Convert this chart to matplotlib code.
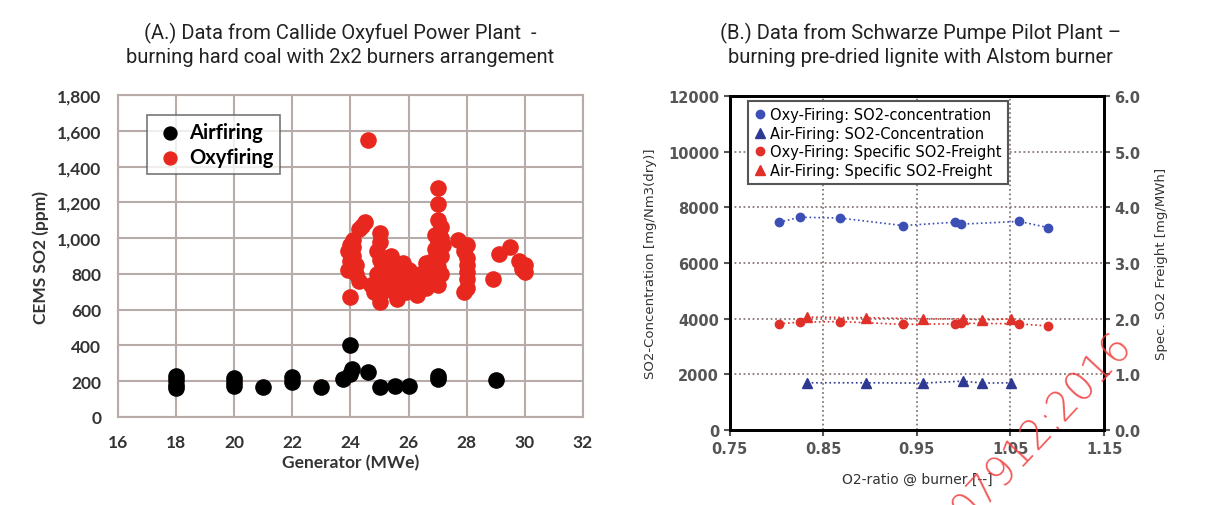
import matplotlib
matplotlib.use("Agg")
from matplotlib import pyplot as plt
import numpy as np

# (A.) Callide - generator load (MWe) vs CEMS SO2 (ppm)
air_x = [18, 18, 18, 18, 20, 20, 20, 21, 22, 22, 23, 23.75, 24.0, 24.05, 24.0,
         24.6, 25.0, 25.55, 26.0, 27.0, 27.0, 29.0]
air_y = [230, 205, 180, 160, 220, 195, 175, 170, 225, 195, 170, 212, 400, 268, 240,
         250, 170, 175, 175, 230, 210, 207]

oxy_x = [24.0, 23.9, 24.0, 23.9, 24.0, 24.1, 24.1, 24.2, 24.2, 24.3, 24.3, 24.5, 24.4, 24.1,
         24.6,
         25.0, 25.0, 24.9, 25.0, 25.1, 24.9, 25.0, 25.1, 25.0, 25.0, 24.8, 24.7,
         25.3, 25.4, 25.5, 25.5, 25.6, 25.7, 25.8, 25.8, 25.9, 26.0, 26.1, 26.2, 26.3,
         25.4, 25.6, 26.4, 26.5, 26.6, 26.6,
         27.0, 27.0, 27.0, 27.1, 26.9, 27.0, 26.9, 27.1, 26.8, 27.0, 27.1, 26.9, 27.0,
         27.2, 27.1, 26.7,
         27.7, 28.0, 27.9, 28.0, 28.0, 28.0, 28.0, 28.0, 27.9,
         28.9, 29.1, 29.5, 29.8, 30.0, 30.0, 29.9]
oxy_y = [670, 820, 870, 930, 960, 990, 900, 850, 800, 760, 1050, 1090, 1070, 950,
         1550,
         1030, 980, 930, 880, 840, 800, 760, 720, 680, 645, 700, 740,
         800, 760, 700, 850, 820, 780, 740, 860, 700, 820, 770, 720, 680,
         900, 660, 800, 760, 720, 860,
         1280, 1190, 1100, 1060, 1020, 980, 940, 900, 870, 840, 800, 760, 740,
         960, 1000, 820,
         990, 960, 930, 890, 850, 810, 770, 720, 700,
         770, 910, 950, 870, 850, 810, 830]

# (B.) Schwarze Pumpe - O2 ratio vs SO2 concentration / specific freight
oxy_ratio = [0.803, 0.825, 0.868, 0.935, 0.991, 0.997, 1.059, 1.090]
oxy_conc = [7470, 7650, 7620, 7350, 7470, 7400, 7500, 7280]
oxy_freight = [1.91, 1.94, 1.95, 1.90, 1.91, 1.92, 1.91, 1.87]

air_ratio = [0.833, 0.896, 0.957, 0.999, 1.020, 1.051]
air_conc = [1700, 1700, 1690, 1760, 1690, 1700]
air_freight = [2.03, 2.02, 2.00, 2.00, 1.98, 2.00]

fig = plt.figure(figsize=(12.16, 5.06), dpi=100)
title_font = ["Liberation Sans Narrow", "Roboto", "DejaVu Sans"]

# ---------------- left panel ----------------
ax1 = fig.add_axes([0.097, 0.174, 0.3824, 0.636])
grid_col = "#b8aca8"
ax1.scatter(air_x, air_y, s=120, color="black", zorder=3, label="Airfiring")
ax1.scatter(oxy_x, oxy_y, s=120, color="#e8281e", zorder=3, label="Oxyfiring")
ax1.set_xlim(16, 32)
ax1.set_ylim(0, 1800)
ax1.set_xticks(np.arange(16, 33, 2))
ax1.set_yticks(np.arange(0, 1801, 200))
ax1.set_yticklabels([f"{v:,}" for v in range(0, 1801, 200)])
ax1.grid(True, color=grid_col, linewidth=1.5)
ax1.set_axisbelow(True)
for sp in ax1.spines.values():
    sp.set_color(grid_col)
    sp.set_linewidth(1.5)
ax1.tick_params(length=0, pad=12, labelsize=12.5, labelcolor="#333333")
for lab in ax1.get_xticklabels() + ax1.get_yticklabels():
    lab.set_family("Lato")
    lab.set_weight("bold")
ax1.set_xlabel("Generator (MWe)", family="Lato", weight="bold", fontsize=12.5,
               color="#333333", labelpad=3)
ax1.set_ylabel("CEMS SO2 (ppm)", family="Lato", weight="bold", fontsize=12.5,
               color="#333333", labelpad=6)
leg1 = ax1.legend(loc="upper left", bbox_to_anchor=(0.062, 0.938), fancybox=False,
                  handletextpad=0.15, handlelength=1.6, borderpad=0.35,
                  labelspacing=0.25, borderaxespad=0, markerscale=0.85,
                  prop={"family": "Lato", "weight": "bold", "size": 14.5})
leg1.get_frame().set_edgecolor("#555555")
leg1.get_frame().set_linewidth(1.2)
fig.text(0.28, 0.955, "(A.) Data from Callide Oxyfuel Power Plant  -\n"
         "burning hard coal with 2x2 burners arrangement",
         ha="center", va="top", fontsize=14.5, family=title_font,
         color="#222222", linespacing=1.3)

# ---------------- right panel ----------------
ax2 = fig.add_axes([0.600, 0.148, 0.308, 0.660])
ax3 = ax2.twinx()
blue = "#3b4fb5"
navy = "#2e3a92"
red = "#e0302a"
ax2.plot(oxy_ratio, oxy_conc, ":", color=blue, lw=1.2, marker="o", ms=6,
         label="Oxy-Firing: SO2-concentration")
ax2.plot(air_ratio, air_conc, ":", color=navy, lw=1.2, marker="^", ms=7,
         label="Air-Firing: SO2-Concentration")
ax3.plot(oxy_ratio, oxy_freight, ":", color=red, lw=1.2, marker="o", ms=6,
         label="Oxy-Firing: Specific SO2-Freight")
ax3.plot(air_ratio, air_freight, ":", color=red, lw=1.2, marker="^", ms=7,
         label="Air-Firing: Specific SO2-Freight")
ax2.set_xlim(0.75, 1.15)
ax2.set_ylim(0, 12000)
ax3.set_ylim(0, 6)
ax2.set_xticks([0.75, 0.85, 0.95, 1.05, 1.15])
ax2.set_yticks(np.arange(0, 12001, 2000))
ax3.set_yticks(np.arange(0, 6.1, 1))
ax3.set_yticklabels([f"{v:.1f}" for v in np.arange(0, 6.1, 1)])
ax2.grid(True, linestyle=(0, (1, 1.5)), color="#8a7a78", linewidth=1.3)
for ax in (ax2, ax3):
    for sp in ax.spines.values():
        sp.set_linewidth(2)
    ax.tick_params(labelsize=10.5, labelcolor="#555555", length=4, width=1.5,
                   color="#555555")
    for lab in ax.get_xticklabels() + ax.get_yticklabels():
        lab.set_weight("bold")
ax2.set_xlabel("O2-ratio @ burner [--]", fontsize=10, color="#333333", labelpad=12)
ax2.set_ylabel("SO2-Concentration [mg/Nm3(dry)]", fontsize=9.5, color="#333333",
               labelpad=8)
ax3.set_ylabel("Spec. SO2 Freight [mg/MWh]", fontsize=9.5, color="#333333",
               labelpad=10)
h2, l2 = ax2.get_legend_handles_labels()
h3, l3 = ax3.get_legend_handles_labels()
leg2 = ax3.legend(h2 + h3, l2 + l3, loc="upper left", bbox_to_anchor=(0.05, 0.985),
                  fancybox=False, fontsize=10.5, handlelength=0.8, handletextpad=0.3,
                  borderpad=0.4, labelspacing=0.25, framealpha=1, borderaxespad=0)
leg2.get_frame().set_edgecolor("#555555")
leg2.get_frame().set_linewidth(1.5)
for line in leg2.get_lines():
    line.set_linestyle("none")
fig.text(0.757, 0.955, "(B.) Data from Schwarze Pumpe Pilot Plant –\n"
         "burning pre-dried lignite with Alstom burner",
         ha="center", va="top", fontsize=14.5, family=title_font,
         color="#222222", linespacing=1.3)

# watermark
fig.text(0.932, 0.315, "07912:2016", rotation=47, rotation_mode="anchor",
         ha="right", va="baseline", fontsize=29, color="#f03a3a",
         family="DejaVu Sans", weight="light", alpha=0.85)

fig.savefig("out.png", dpi=100)
